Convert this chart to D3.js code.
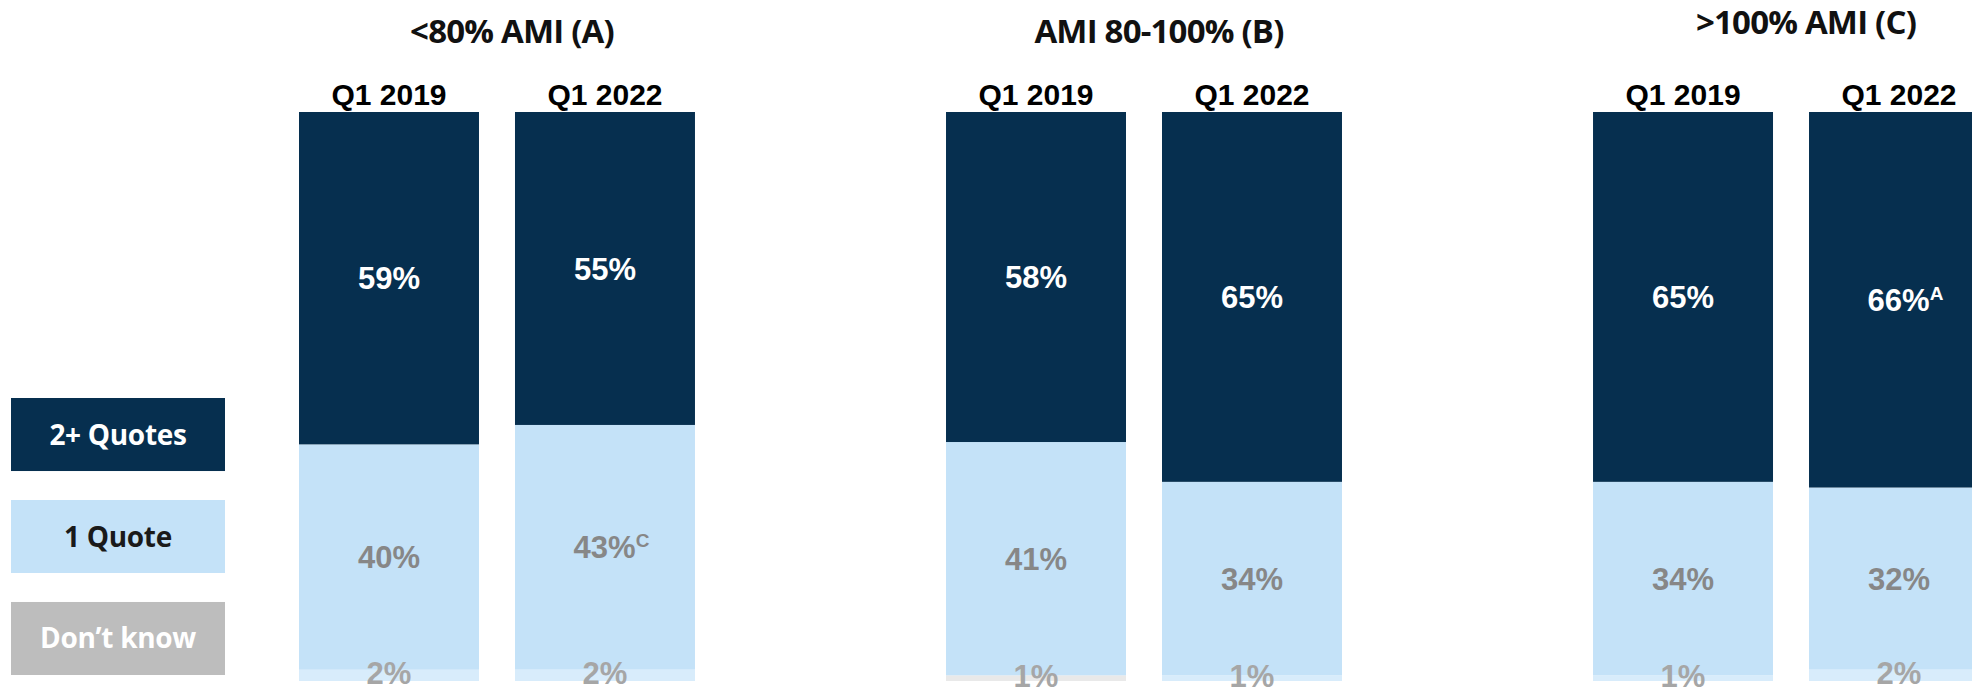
<!DOCTYPE html>
<html>
<head>
<meta charset="utf-8">
<script src="https://cdn.jsdelivr.net/npm/d3@7"></script>
<style>
  html, body { margin: 0; padding: 0; background: #ffffff; }
  svg { display: block; }
</style>
</head>
<body>
<svg id="chart" width="1972" height="693"></svg>
<script>
// ---- data ----
const groups = ["<80% AMI (A)", "AMI 80-100% (B)", ">100% AMI (C)"];
const periods = ["Q1 2019", "Q1 2022"];
const series = ["2+ Quotes", "1 Quote", "Don’t know"];
// values per group, per period: [2+ Quotes, 1 Quote, Don't know]
const twoPlus   = [[59, 55], [58, 65], [65, 66]];
const oneQuote  = [[40, 43], [41, 34], [34, 32]];
const dontKnow  = [[2, 2],   [1, 1],   [1, 2]];
// significance letters (superscripts)
const sigTwoPlus  = [["", ""], ["", ""], ["", "A"]];
const sigOneQuote = [["", "C"], ["", ""], ["", ""]];
// colour of the "Don't know" strip per bar (as drawn in source)
const dkFill = [["#d8ecfb", "#d8ecfb"], ["#e9e9e9", "#d8ecfb"], ["#d8ecfb", "#d8ecfb"]];

// ---- styles ----
const navy = "#062f4f", light = "#c4e2f8", legendGrey = "#bdbdbd";
const labelFont = "'Liberation Sans', Arial, Helvetica, sans-serif";
const titleFont = "'Open Sans', 'Noto Sans', sans-serif";

const svg = d3.select("#chart");

// ---- scales ----
const xGroup = d3.scaleBand().domain(groups).range([299, 1989]).paddingInner(0.388).paddingOuter(0);
const xBar = d3.scaleBand().domain(periods).range([0, xGroup.bandwidth()]).paddingInner(0.1667).paddingOuter(0);
const y = d3.scaleLinear().domain([0, 1]).range([681, 112]);

// build stacked records
const records = [];
groups.forEach((g, gi) => {
  periods.forEach((p, pi) => {
    const vals = [twoPlus[gi][pi], oneQuote[gi][pi], dontKnow[gi][pi]];
    const total = d3.sum(vals);
    // stack from bottom: Don't know, 1 Quote, 2+ Quotes
    const order = [2, 1, 0];
    let acc = 0;
    const segs = [];
    order.forEach(si => {
      const v0 = acc / total;
      acc += vals[si];
      const v1 = acc / total;
      segs.push({ si, v: vals[si], v0, v1 });
    });
    records.push({ g, gi, p, pi, segs });
  });
});

const segFill = (r, s) => s.si === 0 ? navy : s.si === 1 ? light : dkFill[r.gi][r.pi];

// bars
const barG = svg.append("g");
records.forEach(r => {
  const x0 = xGroup(r.g) + xBar(r.p);
  const w = xBar.bandwidth();
  r.segs.forEach(s => {
    barG.append("rect")
      .attr("x", x0).attr("width", w)
      .attr("y", y(s.v1)).attr("height", y(s.v0) - y(s.v1))
      .attr("fill", segFill(r, s));
  });
});

// labels
const labG = svg.append("g").attr("font-family", labelFont).attr("font-weight", "bold");
records.forEach(r => {
  const cx = xGroup(r.g) + xBar(r.p) + xBar.bandwidth() / 2;
  r.segs.forEach(s => {
    const fs = 31;
    const cy = (y(s.v0) + y(s.v1)) / 2;
    const color = s.si === 0 ? "#ffffff" : s.si === 1 ? "#878787" : "#a6a6a6";
    const sig = s.si === 0 ? sigTwoPlus[r.gi][r.pi] : s.si === 1 ? sigOneQuote[r.gi][r.pi] : "";
    const t = labG.append("text")
      .attr("x", cx).attr("y", cy + (s.si === 2 ? 8.5 : fs * 0.36))
      .attr("text-anchor", "middle")
      .attr("font-size", fs)
      .attr("fill", color);
    t.append("tspan").text(s.v + "%");
    if (sig) {
      t.append("tspan").attr("font-size", 19).attr("dy", -11).text(sig);
      // keep the number itself centred
      t.attr("x", cx + 6.5);
    }
  });
});

// period headers
const headG = svg.append("g").attr("font-family", labelFont).attr("font-weight", "bold").attr("font-size", 30).attr("fill", "#000");
groups.forEach(g => {
  periods.forEach(p => {
    headG.append("text")
      .attr("x", xGroup(g) + xBar(p) + xBar.bandwidth() / 2)
      .attr("y", 105)
      .attr("text-anchor", "middle")
      .text(p);
  });
});

// group titles
const titleY = [43, 43, 34];
const titleG = svg.append("g").attr("font-family", titleFont).attr("font-weight", 700).attr("font-size", 33).attr("fill", "#111").attr("letter-spacing", -0.8);
groups.forEach((g, gi) => {
  titleG.append("text")
    .attr("x", xGroup(g) + xGroup.bandwidth() / 2 + 15)
    .attr("y", titleY[gi])
    .attr("text-anchor", "middle")
    .text(g);
});

// legend
const legFill = [navy, light, legendGrey];
const legText = ["#ffffff", "#1a1a1a", "#ffffff"];
const legY = d3.scaleBand().domain(series).range([398, 675]).paddingInner(0.284).paddingOuter(0);
const legG = svg.append("g");
series.forEach((s, i) => {
  legG.append("rect")
    .attr("x", 11).attr("y", legY(s))
    .attr("width", 214).attr("height", legY.bandwidth())
    .attr("fill", legFill[i]);
  legG.append("text")
    .attr("x", 11 + 107).attr("y", legY(s) + legY.bandwidth() / 2 + 10)
    .attr("text-anchor", "middle")
    .attr("font-family", titleFont).attr("font-weight", 700).attr("font-size", 28)
    .attr("letter-spacing", -0.3)
    .attr("fill", legText[i])
    .text(s);
});
</script>
</body>
</html>
